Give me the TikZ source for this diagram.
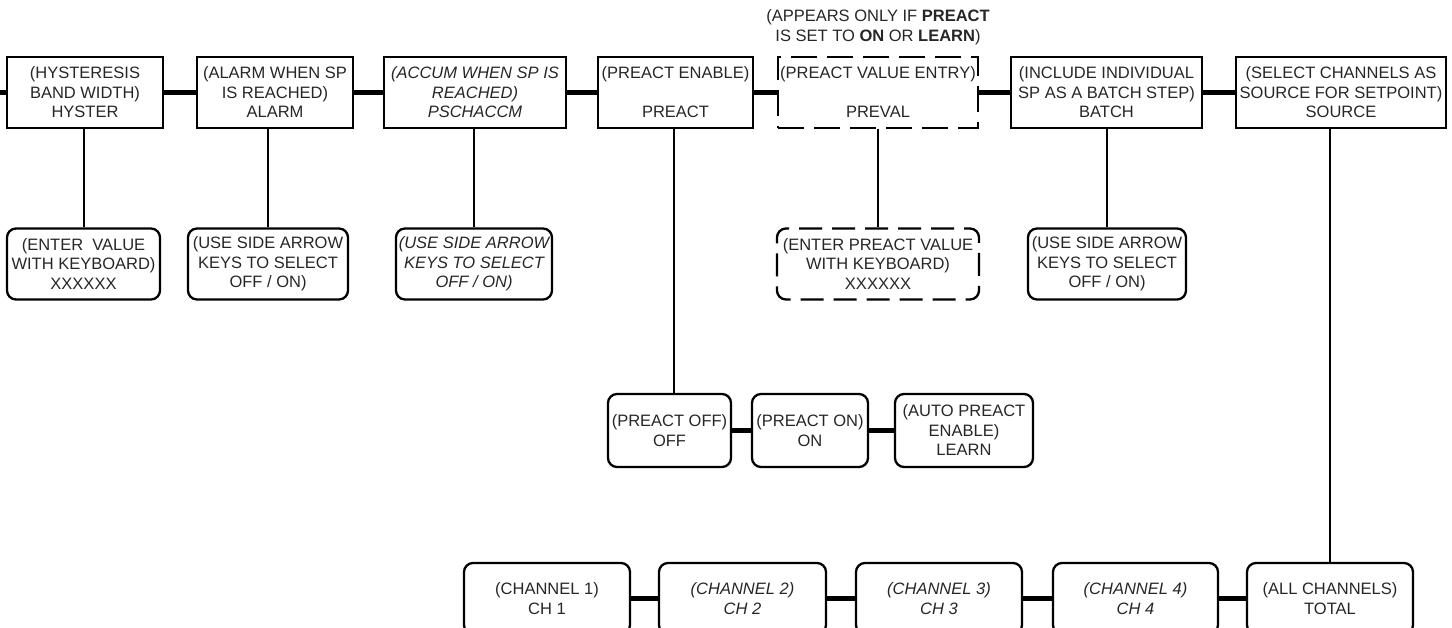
\documentclass[tikz,border=0pt]{standalone}
\usepackage{fontspec}
\setmainfont{Liberation Sans}
\begin{document}
\begin{tikzpicture}[x=1pt,y=-1pt,
  every node/.style={font=\fontsize{16.5}{19.5}\selectfont, text=black!85, align=center, inner sep=0pt},
  menubox/.style={draw=black, line width=2.3pt, minimum height=71pt},
  optbox/.style={menubox, rounded corners=9pt},
  dashbox/.style={menubox, dash pattern=on 26pt off 10pt},
  dashopt/.style={optbox, dash pattern=on 23pt off 10pt, dash phase=17.2pt},
  chain/.style={line width=5pt, draw=black},
  branch/.style={line width=2pt, draw=black}]
\useasboundingbox (0,0) rectangle (1452,628);
\clip (0,0) rectangle (1452,628);

% main menu row
\node[menubox, minimum width=156pt] (hyst) at (85,92.5) {(HYSTERESIS\\BAND WIDTH)\\HYSTER};
\node[menubox, minimum width=156pt] (alarm) at (275,92.5) {(ALARM WHEN SP\\IS REACHED)\\ALARM};
\node[menubox, minimum width=182pt, font=\fontsize{16.5}{19.5}\selectfont\itshape] (accum) at (475,92.5) {(ACCUM WHEN SP IS\\REACHED)\\PSCHACCM};
\node[menubox, minimum width=155pt] (preact) at (675.5,92.5) {(PREACT ENABLE)\\[19.5pt]PREACT};
\node[dashbox, minimum width=200pt] (preval) at (878,92.5) {(PREACT VALUE ENTRY)\\[19.5pt]PREVAL};
\node[menubox, minimum width=191pt] (batch) at (1106.5,92.5) {(INCLUDE INDIVIDUAL\\SP AS A BATCH STEP)\\BATCH};
\node[menubox, minimum width=210pt] (source) at (1341,92.5) {(SELECT CHANNELS AS\\SOURCE FOR SETPOINT)\\SOURCE};

\node (note) at (878,27) {(APPEARS ONLY IF \textbf{PREACT}\\IS SET TO \textbf{ON} OR \textbf{LEARN})};

\coordinate (entry) at (0,92.5);
\draw[chain] (entry) -- (hyst.west);
\draw[chain] (hyst.east) -- (alarm.west);
\draw[chain] (alarm.east) -- (accum.west);
\draw[chain] (accum.east) -- (preact.west);
\draw[chain] (preact.east) -- (preval.west);
\draw[chain] (preval.east) -- (batch.west);
\draw[chain] (batch.east) -- (source.west);

% value entry row
\node[optbox, minimum width=153pt] (hystval) at (83.5,264) {(ENTER\ \ VALUE\\WITH KEYBOARD)\\XXXXXX};
\node[optbox, minimum width=160pt] (alarmval) at (268,264) {(USE SIDE ARROW\\KEYS TO SELECT\\OFF / ON)};
\node[optbox, minimum width=156pt, font=\fontsize{16.5}{19.5}\selectfont\itshape] (accumval) at (474,264) {(USE SIDE ARROW\\KEYS TO SELECT\\OFF / ON)};
\node[dashopt, minimum width=202pt] (prevalval) at (878,264) {(ENTER PREACT VALUE\\WITH KEYBOARD)\\XXXXXX};
\node[optbox, minimum width=158pt] (batchval) at (1107,264) {(USE SIDE ARROW\\KEYS TO SELECT\\OFF / ON)};

\draw[branch] (hystval.north) -- (hystval.north |- hyst.south);
\draw[branch] (alarmval.north) -- (alarmval.north |- alarm.south);
\draw[branch] (accumval.north) -- (accumval.north |- accum.south);
\draw[branch] (prevalval.north) -- (prevalval.north |- preval.south);
\draw[branch] (batchval.north) -- (batchval.north |- batch.south);

% preact choices
\node[optbox, minimum width=123pt, minimum height=73pt] (off) at (669.5,430.5) {(PREACT OFF)\\OFF};
\node[optbox, minimum width=116pt, minimum height=73pt] (on) at (810,430.5) {(PREACT ON)\\ON};
\node[optbox, minimum width=138pt, minimum height=73pt] (learn) at (964,430.5) {(AUTO PREACT\\ENABLE)\\LEARN};
\draw[branch] (preact.south -| 674,0) -- (674,393.5);
\draw[chain] (off.east) -- (on.west);
\draw[chain] (on.east) -- (learn.west);

% source channels
\node[optbox, minimum width=166pt] (ch1) at (547,598.5) {(CHANNEL 1)\\CH 1};
\node[optbox, minimum width=167pt, font=\fontsize{16.5}{19.5}\selectfont\itshape] (ch2) at (742.5,598.5) {(CHANNEL 2)\\CH 2};
\node[optbox, minimum width=166pt, font=\fontsize{16.5}{19.5}\selectfont\itshape] (ch3) at (939,598.5) {(CHANNEL 3)\\CH 3};
\node[optbox, minimum width=165pt, font=\fontsize{16.5}{19.5}\selectfont\itshape] (ch4) at (1135.5,598.5) {(CHANNEL 4)\\CH 4};
\node[optbox, minimum width=166pt] (total) at (1330,598.5) {(ALL CHANNELS)\\TOTAL};
\draw[chain] (ch1.east) -- (ch2.west);
\draw[chain] (ch2.east) -- (ch3.west);
\draw[chain] (ch3.east) -- (ch4.west);
\draw[chain] (ch4.east) -- (total.west);
\draw[branch] (total.north) -- (total.north |- source.south);
\end{tikzpicture}
\end{document}
